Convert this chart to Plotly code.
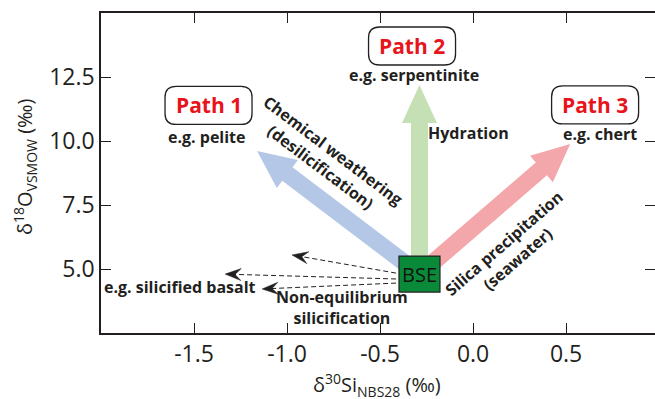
import plotly.graph_objects as go
import numpy as np

# ---------------- data ----------------
X_RANGE = [-2.0, 0.978]
Y_RANGE = [2.5, 15.0]
X_TICKS = [-1.5, -1.0, -0.5, 0.0, 0.5]
X_TICK_LABELS = ["-1.5", "-1.0", "-0.5", "0.0", "0.5"]
Y_TICKS = [5.0, 7.5, 10.0, 12.5]
Y_TICK_LABELS = ["5.0", "7.5", "10.0", "12.5"]

BSE_X, BSE_Y = -0.288, 4.80

PATH_NAMES = ["Path 1", "Path 2", "Path 3"]
PATH_EXAMPLES = ["e.g. pelite", "e.g. serpentinite", "e.g. chert"]
PATH_TIPS_X = [-1.161, -0.288, 0.522]
PATH_TIPS_Y = [9.61, 12.19, 9.88]
PATH_COLORS = ["#B4C7E7", "#C5E0B4", "#F4A7AB"]
PATH_LABEL_X = [-1.422, -0.328, 0.656]
PATH_LABEL_Y = [11.39, 13.71, 11.41]
EXAMPLE_X = [-1.430, -0.317, 0.683]
EXAMPLE_Y = [10.16, 12.58, 10.27]

NONEQ_START_X = [-0.414, -0.414, -0.414]
NONEQ_START_Y = [4.84, 4.61, 4.45]
NONEQ_TIP_X = [-0.973, -1.333, -1.134]
NONEQ_TIP_Y = [5.55, 4.80, 4.22]

PROCESS_TEXTS = ["Chemical weathering<br>(desilicification)", "Hydration",
                 "Silica precipitation<br>(seawater)"]
PROCESS_X = [-0.790, -0.027, 0.200]
PROCESS_Y = [9.30, 10.31, 5.70]
PROCESS_ANGLE = [37, 0, -41]

# ---------------- layout geometry ----------------
W, H = 655, 399
ML, MR, MT, MB = 101, 0, 13, 66
PW, PH = W - ML - MR, H - MT - MB
SX = PW / (X_RANGE[1] - X_RANGE[0])
SY = PH / (Y_RANGE[1] - Y_RANGE[0])
INK = "#231f20"
FONT = "Open Sans"


def to_px(x, y):
    return np.array([x * SX, y * SY])


def to_data(p):
    return p[0] / SX, p[1] / SY


def arrow_polygon(x0, y0, x1, y1, shaft_w, head_w, head_len):
    p0, p1 = to_px(x0, y0), to_px(x1, y1)
    d = p1 - p0
    u = d / np.linalg.norm(d)
    n = np.array([-u[1], u[0]])
    base = p1 - u * head_len
    pts = [p0 + n * shaft_w / 2, base + n * shaft_w / 2, base + n * head_w / 2, p1,
           base - n * head_w / 2, base - n * shaft_w / 2, p0 - n * shaft_w / 2,
           p0 + n * shaft_w / 2]
    xs, ys = zip(*[to_data(p) for p in pts])
    return list(xs), list(ys)


def stealth_head(x0, y0, x1, y1, length=16, half_w=6, notch=0.62):
    p0, p1 = to_px(x0, y0), to_px(x1, y1)
    d = p1 - p0
    u = d / np.linalg.norm(d)
    n = np.array([-u[1], u[0]])
    back = p1 - u * length
    nt = p1 - u * length * notch
    pts = [p1, back + n * half_w, nt, back - n * half_w, p1]
    xs, ys = zip(*[to_data(p) for p in pts])
    return list(xs), list(ys), to_data(nt)


def rounded_box(cx, cy, w_px, h_px, r_px):
    hw, hh = w_px / 2 / SX, h_px / 2 / SY
    rx, ry = r_px / SX, r_px / SY
    x0, x1, y0, y1 = cx - hw, cx + hw, cy - hh, cy + hh
    return (f"M{x0 + rx},{y0} L{x1 - rx},{y0} Q{x1},{y0} {x1},{y0 + ry} "
            f"L{x1},{y1 - ry} Q{x1},{y1} {x1 - rx},{y1} L{x0 + rx},{y1} "
            f"Q{x0},{y1} {x0},{y1 - ry} L{x0},{y0 + ry} Q{x0},{y0} {x0 + rx},{y0} Z")


fig = go.Figure()

# big path arrows
for tx, ty, col in zip(PATH_TIPS_X, PATH_TIPS_Y, PATH_COLORS):
    xs, ys = arrow_polygon(BSE_X, BSE_Y, tx, ty, 17, 35, 38)
    fig.add_trace(go.Scatter(x=xs, y=ys, mode="lines", fill="toself", fillcolor=col,
                             line=dict(width=0, color=col), hoverinfo="skip",
                             showlegend=False))

# non-equilibrium dashed arrows
for sx_, sy_, tx, ty in zip(NONEQ_START_X, NONEQ_START_Y, NONEQ_TIP_X, NONEQ_TIP_Y):
    hx, hy, (nx, ny) = stealth_head(sx_, sy_, tx, ty)
    fig.add_trace(go.Scatter(x=[sx_, nx], y=[sy_, ny], mode="lines",
                             line=dict(color=INK, width=1, dash="5px,3px"),
                             hoverinfo="skip", showlegend=False))
    fig.add_trace(go.Scatter(x=hx, y=hy, mode="lines", fill="toself", fillcolor=INK,
                             line=dict(width=0.5, color=INK), hoverinfo="skip",
                             showlegend=False))

shapes = []
# BSE box
bw, bh = 41 / SX, 36 / SY
shapes.append(dict(type="rect", xref="x", yref="y", x0=BSE_X - bw / 2, x1=BSE_X + bw / 2,
                   y0=BSE_Y - bh / 2, y1=BSE_Y + bh / 2, fillcolor="#0a8a38",
                   line=dict(color=INK, width=1.2), layer="above"))
# rounded path label boxes
for cx, cy in zip(PATH_LABEL_X, PATH_LABEL_Y):
    shapes.append(dict(type="path", xref="x", yref="y", path=rounded_box(cx, cy, 87, 38, 11),
                       line=dict(color=INK, width=1.3), fillcolor="rgba(255,255,255,0)",
                       layer="above"))

C = dict(xanchor="center", yanchor="middle", showarrow=False)
ann = []
ann.append(dict(x=BSE_X, y=BSE_Y, text="BSE",
                font=dict(family=FONT, size=20, color="#111111"), **C))
for name, cx, cy in zip(PATH_NAMES, PATH_LABEL_X, PATH_LABEL_Y):
    ann.append(dict(x=cx, y=cy, text=f"<b>{name}</b>",
                    font=dict(family=FONT, size=21, color="#e8141c"), **C))
for t, cx, cy in zip(PATH_EXAMPLES, EXAMPLE_X, EXAMPLE_Y):
    ann.append(dict(x=cx, y=cy, text=f"<b>{t}</b>",
                    font=dict(family=FONT, size=16, color=INK), **C))
for t, cx, cy, a in zip(PROCESS_TEXTS, PROCESS_X, PROCESS_Y, PROCESS_ANGLE):
    ann.append(dict(x=cx, y=cy, text=f"<b>{t}</b>", textangle=a,
                    font=dict(family=FONT, size=16, color=INK), **C))
ann.append(dict(x=-1.575, y=4.30, text="<b>e.g. silicified basalt</b>",
                font=dict(family=FONT, size=16, color=INK), **C))
ann.append(dict(x=-0.704, y=3.50, text="<b>Non-equilibrium<br>silicification</b>",
                font=dict(family=FONT, size=16, color=INK), **C))
# axis titles
ann.append(dict(xref="paper", yref="paper", x=(377 - ML) / PW, y=(H - MB - 385) / PH,
                text="δ<sup>30</sup>Si<sub>NBS28</sub> (‰)",
                font=dict(family=FONT, size=20, color=INK), **C))
ann.append(dict(xref="paper", yref="paper", x=(25 - ML) / PW, y=(H - MB - 167) / PH,
                text="δ<sup>18</sup>O<sub>VSMOW</sub> (‰)", textangle=-90,
                font=dict(family=FONT, size=20, color=INK), **C))

axis_common = dict(showgrid=False, zeroline=False, ticks="inside", ticklen=10,
                   tickwidth=1.2, tickcolor=INK, linecolor=INK, linewidth=1.5,
                   tickfont=dict(family=FONT, size=23, color=INK))

fig.update_layout(
    width=W, height=H, margin=dict(l=ML, r=MR, t=MT, b=MB),
    paper_bgcolor="white", plot_bgcolor="white",
    xaxis=dict(range=X_RANGE, tickvals=X_TICKS, ticktext=X_TICK_LABELS, showline=True,
               mirror="ticks", **axis_common),
    yaxis=dict(range=Y_RANGE, tickvals=Y_TICKS, ticktext=Y_TICK_LABELS, showline=True,
               mirror=False, **axis_common),
    yaxis2=dict(range=Y_RANGE, tickvals=Y_TICKS, overlaying="y", side="right",
                showticklabels=False, showline=False, showgrid=False, zeroline=False,
                ticks="inside", ticklen=10, tickwidth=1.2, tickcolor=INK),
    shapes=shapes, annotations=ann,
)
# dummy trace to activate right y-axis ticks
fig.add_trace(go.Scatter(x=[None], y=[None], yaxis="y2", showlegend=False, hoverinfo="skip"))

fig.write_html("out.html")
